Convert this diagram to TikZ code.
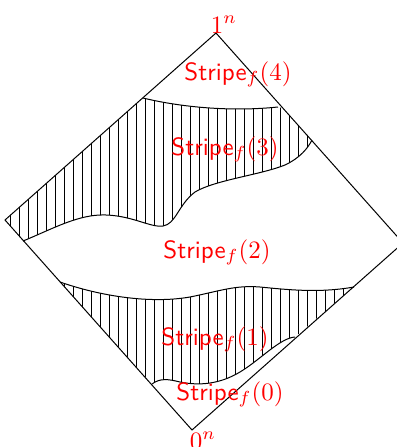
\documentclass[tikz,border=0pt]{standalone}
\usetikzlibrary{calc}

\begin{document}
\begin{tikzpicture}[
  x=0.4pt, y=-0.4pt,
  lbl/.style={font=\normalsize, text=red, inner sep=0pt, anchor=base},
  edge/.style={line width=0.4pt, black},
  hatchline/.style={line width=0.4pt, black},
]

\useasboundingbox (0,0) rectangle (396,447);

% Corners of the cube
\coordinate (top)   at (216,33);
\coordinate (left)  at (5,220);
\coordinate (bot)   at (192,430);
\coordinate (right) at (403,243);

% =============================================
% Hatched stripe 3
% =============================================
\begin{scope}
  \clip (143,98) .. controls (180,107) and (230,112) .. (278,107)
    -- (283,108) -- (312,140)
    .. controls (308,148) and (300,158) .. (285,165)
    .. controls (260,175) and (215,180) .. (195,192)
    .. controls (178,205) and (176,224) .. (163,226)
    .. controls (150,228) and (130,214) .. (100,215)
    .. controls (75,216) and (50,230) .. (23,241)
    -- (left) -- cycle;
  \foreach \x in {1,10,...,400} {
    \draw[hatchline] (\x,0) -- (\x,447);
  }
\end{scope}

% =============================================
% Hatched stripe 1
% =============================================
\begin{scope}
  \clip (60,282) .. controls (100,296) and (150,304) .. (190,297)
    .. controls (220,291) and (235,285) .. (260,287)
    .. controls (290,290) and (320,293) .. (354,287)
    -- (295,337)
    .. controls (280,338) and (260,360) .. (240,372)
    .. controls (220,384) and (200,386) .. (180,382)
    .. controls (168,379) and (160,378) .. (152,384)
    -- cycle;
  \foreach \x in {1,10,...,400} {
    \draw[hatchline] (\x,0) -- (\x,447);
  }
\end{scope}

% Borders between the stripes
\draw[edge] (143,98) .. controls (180,107) and (230,112) .. (278,107);
\draw[edge] (23,241) .. controls (50,230) and (75,216) .. (100,215)
  .. controls (130,214) and (150,228) .. (163,226)
  .. controls (176,224) and (178,205) .. (195,192)
  .. controls (215,180) and (260,175) .. (285,165)
  .. controls (300,158) and (308,148) .. (312,140);
\draw[edge] (60,282) .. controls (100,296) and (150,304) .. (190,297)
  .. controls (220,291) and (235,285) .. (260,287)
  .. controls (290,290) and (320,293) .. (354,287);
\draw[edge] (152,384) .. controls (160,378) and (168,379) .. (180,382)
  .. controls (200,386) and (220,384) .. (240,372)
  .. controls (260,360) and (280,338) .. (295,337);

% The cube
\draw[edge] (top) -- (right) -- (bot) -- (left) -- cycle;

% =============================================
% Labels
% =============================================
\node[lbl] (onen)  at (224,33)  {$1^n$};
\node[lbl] (zeron) at (203,449) {$0^n$};
\node[lbl] (st4) at (238,80)  {\textsf{Stripe}$_f(4)$};
\node[lbl] (st3) at (225,155) {\textsf{Stripe}$_f(3)$};
\node[lbl] (st2) at (217,258) {\textsf{Stripe}$_f(2)$};
\node[lbl] (st1) at (215,345) {\textsf{Stripe}$_f(1)$};
\node[lbl] (st0) at (230,400) {\textsf{Stripe}$_f(0)$};

\end{tikzpicture}
\end{document}
